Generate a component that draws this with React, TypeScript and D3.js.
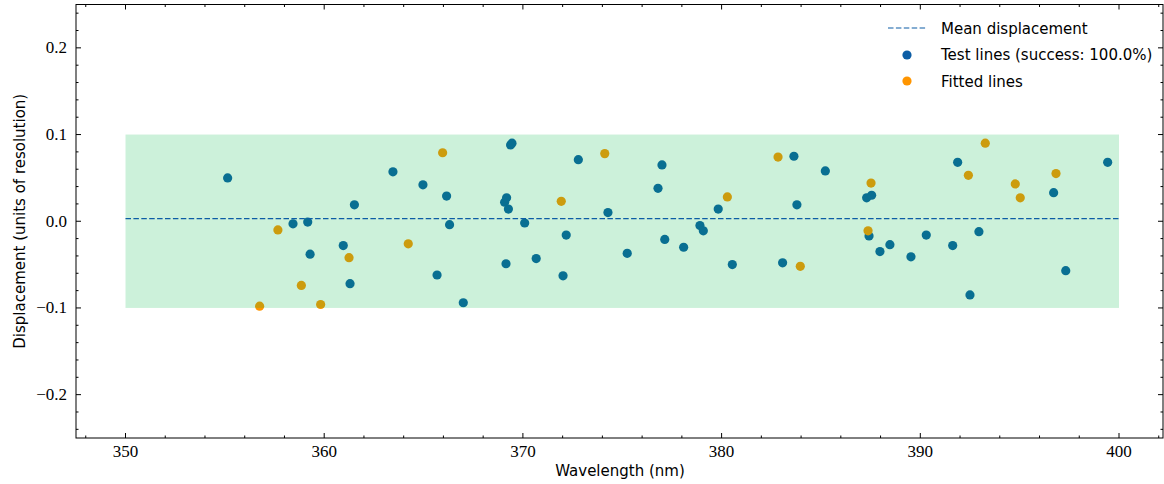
import React from "react";
import * as d3 from "d3";

const testWavelength = [355.14, 361.52, 358.43, 359.17, 360.96, 359.29, 361.3, 363.46, 369.38, 369.45, 372.79, 364.97, 366.16, 369.08, 369.18, 369.27, 374.28, 366.31, 370.09, 372.18, 365.68, 369.15, 370.67, 372.02, 367.0, 377.0, 376.8, 379.83, 378.91, 379.08, 377.14, 378.09, 375.25, 380.54, 383.64, 385.22, 383.79, 383.07, 387.3, 387.55, 387.42, 387.97, 388.47, 389.53, 390.3, 391.63, 391.88, 392.95, 392.5, 396.71, 397.32, 399.43];
const testDisplacement = [0.05, 0.019, -0.003, -0.001, -0.028, -0.038, -0.072, 0.057, 0.088, 0.09, 0.071, 0.042, 0.029, 0.022, 0.027, 0.014, 0.01, -0.004, -0.002, -0.016, -0.062, -0.049, -0.043, -0.063, -0.094, 0.065, 0.038, 0.014, -0.005, -0.011, -0.021, -0.03, -0.037, -0.05, 0.075, 0.058, 0.019, -0.048, 0.027, 0.03, -0.017, -0.035, -0.027, -0.041, -0.016, -0.028, 0.068, -0.012, -0.085, 0.033, -0.057, 0.068];

const fittedWavelength = [357.67, 361.25, 358.85, 356.75, 359.82, 365.96, 374.12, 371.93, 364.23, 380.29, 382.84, 383.96, 387.52, 387.37, 393.27, 392.42, 394.78, 395.03, 396.83];
const fittedDisplacement = [-0.01, -0.042, -0.074, -0.098, -0.096, 0.079, 0.078, 0.023, -0.026, 0.028, 0.074, -0.052, 0.044, -0.011, 0.09, 0.053, 0.043, 0.027, 0.055];

const meanDisplacement = 0.003;
const toleranceBand = [-0.1, 0.1];
const bandWavelength = [350, 400];

const xMajorTicks = [350, 360, 370, 380, 390, 400];
const yMajorTicks = [-0.2, -0.1, 0.0, 0.1, 0.2];
const legendLabels = ["Mean displacement", "Test lines (success: 100.0%)", "Fitted lines"];

const BLUE = "#0C5DA5";
const ORANGE = "#FF9500";
const GREEN = "#00B945";

export default function App() {
  const W = 1164, H = 484;
  const left = 76, right = 1163, top = 4.5, bottom = 438;
  const x = d3.scaleLinear().domain([350, 400]).range([125.5, 1119]);
  const y = d3.scaleLinear().domain([-0.25, 0.25]).range([bottom, top]);
  const xMinor = d3.range(348, 403, 2).filter((v) => !xMajorTicks.includes(v));
  const yMinor = d3.range(-24, 25, 2).map((v) => v / 100).filter((v) => Math.abs(v * 10 - Math.round(v * 10)) > 1e-6);
  const fmtY = (v: number) => (v < 0 ? "\u2212" : "") + Math.abs(v).toFixed(1);
  const serif = "'Liberation Serif', 'DejaVu Serif', serif";
  const sans = "'DejaVu Sans', sans-serif";
  const r = 4.6;
  const maj = 5, mnr = 2.5;

  return (
    <svg width={W} height={H} style={{ position: "absolute", left: 0, top: 0, display: "block" }}>
      <rect x={0} y={0} width={W} height={H} fill="white" />
      <defs>
        <clipPath id="plotclip">
          <rect x={left} y={top} width={right - left} height={bottom - top} />
        </clipPath>
      </defs>
      <g clipPath="url(#plotclip)">
        {testWavelength.map((w, i) => (
          <circle key={"t" + i} cx={x(w)} cy={y(testDisplacement[i])} r={r} fill={BLUE} />
        ))}
        {fittedWavelength.map((w, i) => (
          <circle key={"f" + i} cx={x(w)} cy={y(fittedDisplacement[i])} r={r} fill={ORANGE} />
        ))}
        <rect
          x={x(bandWavelength[0])}
          y={y(toleranceBand[1])}
          width={x(bandWavelength[1]) - x(bandWavelength[0])}
          height={y(toleranceBand[0]) - y(toleranceBand[1])}
          fill={GREEN}
          fillOpacity={0.2}
        />
        <line
          x1={x(bandWavelength[0])}
          x2={x(bandWavelength[1])}
          y1={y(meanDisplacement)}
          y2={y(meanDisplacement)}
          stroke={BLUE}
          strokeWidth={1.1}
          strokeDasharray="5.5,2.4"
        />
      </g>
      {/* frame */}
      <rect x={left} y={top} width={right - left} height={bottom - top} fill="none" stroke="black" strokeWidth={1} />
      {/* x ticks */}
      {xMajorTicks.map((t) => (
        <g key={"xm" + t}>
          <line x1={x(t)} x2={x(t)} y1={bottom} y2={bottom - maj} stroke="black" />
          <line x1={x(t)} x2={x(t)} y1={top} y2={top + maj} stroke="black" />
          <text x={x(t)} y={bottom + 19} textAnchor="middle" fontFamily={serif} fontSize={17} fill="black">
            {t}
          </text>
        </g>
      ))}
      {xMinor.map((t) => (
        <g key={"xn" + t}>
          <line x1={x(t)} x2={x(t)} y1={bottom} y2={bottom - mnr} stroke="black" />
          <line x1={x(t)} x2={x(t)} y1={top} y2={top + mnr} stroke="black" />
        </g>
      ))}
      {/* y ticks */}
      {yMajorTicks.map((t) => (
        <g key={"ym" + t}>
          <line x1={left} x2={left + maj} y1={y(t)} y2={y(t)} stroke="black" />
          <line x1={right} x2={right - maj} y1={y(t)} y2={y(t)} stroke="black" />
          <text x={left - 9} y={y(t) + 5.5} textAnchor="end" fontFamily={serif} fontSize={17} fill="black">
            {fmtY(t)}
          </text>
        </g>
      ))}
      {yMinor.map((t) => (
        <g key={"yn" + t}>
          <line x1={left} x2={left + mnr} y1={y(t)} y2={y(t)} stroke="black" />
          <line x1={right} x2={right - mnr} y1={y(t)} y2={y(t)} stroke="black" />
        </g>
      ))}
      {/* axis labels */}
      <text x={620} y={476} textAnchor="middle" fontFamily={sans} fontSize={15} fill="black">
        Wavelength (nm)
      </text>
      <text
        transform={`translate(25, ${(top + bottom) / 2}) rotate(-90)`}
        textAnchor="middle"
        fontFamily={sans}
        fontSize={15}
        fill="black"
      >
        Displacement (units of resolution)
      </text>
      {/* legend */}
      <g>
        <line x1={888} x2={926} y1={28} y2={28} stroke={BLUE} strokeWidth={1.1} strokeDasharray="5.5,2.4" />
        <circle cx={907} cy={55} r={r} fill={BLUE} />
        <circle cx={907} cy={81} r={r} fill={ORANGE} />
        {legendLabels.map((l, i) => (
          <text key={l} x={941} y={33.5 + i * 26.5} fontFamily={sans} fontSize={15} fill="black">
            {l}
          </text>
        ))}
      </g>
    </svg>
  );
}
